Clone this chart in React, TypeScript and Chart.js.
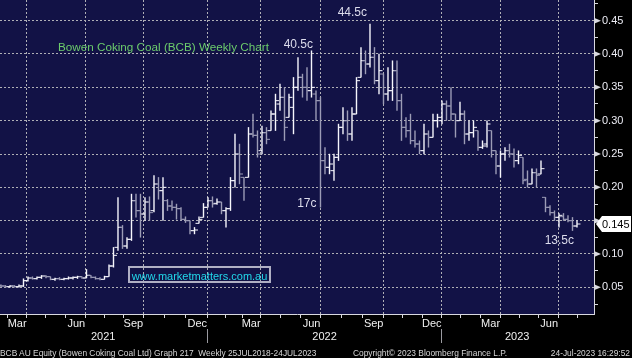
import React, { useEffect, useRef } from 'react';
import { Chart, registerables } from 'chart.js';

Chart.register(...registerables);

// Weekly OHLC, Bowen Coking Coal (BCB), Feb 2021 - Jul 2023 (A$)
const OPEN = [
  0.053, 0.052, 0.051, 0.052, 0.051, 0.052, 0.060, 0.064, 0.063, 0.065,
  0.067, 0.066, 0.062, 0.063, 0.062, 0.063, 0.064, 0.065, 0.066, 0.064,
  0.068, 0.065, 0.063, 0.062, 0.066, 0.082, 0.110, 0.140, 0.112, 0.122,
  0.180, 0.165, 0.160, 0.178, 0.165, 0.205, 0.195, 0.180, 0.172, 0.170,
  0.168, 0.152, 0.150, 0.135, 0.146, 0.155, 0.170, 0.180, 0.176, 0.178,
  0.165, 0.168, 0.210, 0.250, 0.215, 0.215, 0.280, 0.278, 0.255, 0.282,
  0.285, 0.310, 0.325, 0.335, 0.305, 0.320, 0.350, 0.365, 0.350, 0.345,
  0.340, 0.330, 0.240, 0.230, 0.225, 0.245, 0.290, 0.300, 0.280, 0.310,
  0.365, 0.390, 0.385, 0.395, 0.360, 0.370, 0.340, 0.345, 0.375, 0.330,
  0.290, 0.285, 0.270, 0.265, 0.255, 0.280, 0.275, 0.300, 0.300, 0.325,
  0.322, 0.310, 0.300, 0.310, 0.280, 0.282, 0.285, 0.260, 0.265, 0.285,
  0.255, 0.232, 0.250, 0.255, 0.250, 0.240, 0.245, 0.212, 0.205, 0.222,
  0.220, 0.185, 0.170, 0.162, 0.155, 0.156, 0.152, 0.150, 0.142,
];
const HIGH = [
  0.054, 0.053, 0.053, 0.053, 0.054, 0.063, 0.066, 0.066, 0.066, 0.068,
  0.068, 0.066, 0.064, 0.065, 0.064, 0.066, 0.066, 0.067, 0.066, 0.077,
  0.068, 0.066, 0.065, 0.067, 0.084, 0.110, 0.185, 0.143, 0.125, 0.190,
  0.190, 0.190, 0.185, 0.186, 0.218, 0.215, 0.215, 0.182, 0.180, 0.175,
  0.170, 0.156, 0.150, 0.140, 0.156, 0.176, 0.185, 0.186, 0.183, 0.178,
  0.170, 0.215, 0.280, 0.265, 0.215, 0.290, 0.310, 0.285, 0.292, 0.290,
  0.315, 0.340, 0.355, 0.350, 0.340, 0.365, 0.395, 0.370, 0.380, 0.405,
  0.345, 0.335, 0.260, 0.250, 0.250, 0.295, 0.320, 0.315, 0.320, 0.365,
  0.410, 0.405, 0.445, 0.410, 0.400, 0.370, 0.380, 0.390, 0.390, 0.340,
  0.305, 0.310, 0.285, 0.270, 0.295, 0.285, 0.310, 0.310, 0.330, 0.330,
  0.350, 0.310, 0.328, 0.315, 0.300, 0.300, 0.285, 0.270, 0.300, 0.285,
  0.255, 0.255, 0.260, 0.265, 0.258, 0.255, 0.245, 0.225, 0.228, 0.228,
  0.240, 0.185, 0.173, 0.165, 0.161, 0.161, 0.158, 0.155, 0.150,
];
const LOW = [
  0.050, 0.050, 0.050, 0.050, 0.050, 0.051, 0.059, 0.062, 0.062, 0.063,
  0.064, 0.061, 0.060, 0.061, 0.061, 0.062, 0.062, 0.063, 0.063, 0.064,
  0.064, 0.062, 0.061, 0.062, 0.066, 0.080, 0.105, 0.108, 0.108, 0.120,
  0.155, 0.125, 0.150, 0.150, 0.163, 0.182, 0.150, 0.165, 0.165, 0.152,
  0.150, 0.147, 0.130, 0.130, 0.146, 0.155, 0.170, 0.170, 0.174, 0.160,
  0.140, 0.165, 0.200, 0.205, 0.180, 0.215, 0.275, 0.245, 0.250, 0.265,
  0.285, 0.285, 0.315, 0.270, 0.305, 0.280, 0.345, 0.335, 0.330, 0.335,
  0.300, 0.170, 0.220, 0.220, 0.210, 0.240, 0.280, 0.270, 0.270, 0.310,
  0.365, 0.370, 0.380, 0.355, 0.340, 0.325, 0.330, 0.330, 0.315, 0.270,
  0.275, 0.265, 0.260, 0.250, 0.250, 0.260, 0.275, 0.290, 0.295, 0.300,
  0.300, 0.275, 0.300, 0.265, 0.270, 0.275, 0.255, 0.258, 0.260, 0.245,
  0.220, 0.215, 0.240, 0.245, 0.230, 0.235, 0.205, 0.200, 0.205, 0.200,
  0.220, 0.163, 0.158, 0.150, 0.140, 0.150, 0.148, 0.135, 0.140,
];
const CLOSE = [
  0.052, 0.051, 0.052, 0.051, 0.052, 0.060, 0.064, 0.063, 0.065, 0.067,
  0.066, 0.062, 0.063, 0.062, 0.063, 0.064, 0.065, 0.066, 0.064, 0.068,
  0.065, 0.063, 0.062, 0.066, 0.082, 0.098, 0.140, 0.112, 0.122, 0.180,
  0.165, 0.160, 0.178, 0.162, 0.205, 0.195, 0.200, 0.172, 0.170, 0.168,
  0.152, 0.150, 0.135, 0.136, 0.152, 0.170, 0.180, 0.175, 0.178, 0.165,
  0.168, 0.210, 0.250, 0.220, 0.200, 0.280, 0.278, 0.250, 0.282, 0.272,
  0.310, 0.330, 0.335, 0.290, 0.335, 0.350, 0.365, 0.350, 0.345, 0.350,
  0.330, 0.240, 0.230, 0.235, 0.245, 0.290, 0.300, 0.280, 0.310, 0.360,
  0.390, 0.385, 0.395, 0.360, 0.375, 0.340, 0.345, 0.375, 0.330, 0.290,
  0.285, 0.270, 0.265, 0.255, 0.280, 0.275, 0.300, 0.305, 0.325, 0.322,
  0.310, 0.300, 0.310, 0.280, 0.282, 0.290, 0.260, 0.262, 0.295, 0.255,
  0.232, 0.250, 0.255, 0.250, 0.240, 0.248, 0.210, 0.205, 0.222, 0.218,
  0.228, 0.170, 0.162, 0.155, 0.158, 0.152, 0.150, 0.142, 0.145,
];

// x axis: week index positions of month boundaries, labels only at quarter marks
const MONTH_TICKS = [
  1.4, 5.7, 10.0, 14.4, 18.7, 23.0, 27.3, 31.6, 36.3, 41.1, 45.8, 49.8, 53.7, 57.7, 62.1,
  66.6, 71.0, 75.7, 80.3, 85.0, 89.3, 93.6, 97.9, 102.2, 106.6, 110.9, 115.2, 119.5, 123.8, 128.1,
];
const MONTH_LABELS = [
  '', 'Mar', '', '', 'Jun', '', '', 'Sep', '', '', 'Dec', '', '', 'Mar', '',
  '', 'Jun', '', '', 'Sep', '', '', 'Dec', '', '', 'Mar', '', '', 'Jun', '',
];
const YEAR_TICKS = [22.7, 45.8, 71.9, 97.9, 114.7];
const YEAR_LABELS = ['2021', '', '2022', '', '2023'];

const Y_TICKS = [
  0.025, 0.05, 0.075, 0.1, 0.125, 0.15, 0.175, 0.2, 0.225, 0.25,
  0.275, 0.3, 0.325, 0.35, 0.375, 0.4, 0.425, 0.45, 0.475,
];
const Y_LABELS = [
  '', '0.05', '', '0.10', '', '0.15', '', '0.20', '', '0.25',
  '', '0.30', '', '0.35', '', '0.40', '', '0.45', '',
];

const PRICE_NOTES = [
  { index: 69, text: '40.5c', anchor: 'high', dx: 1.5, dy: -3 },
  { index: 82, text: '44.5c', anchor: 'high', dx: -3, dy: -8 },
  { index: 71, text: '17c', anchor: 'low', dx: -4, dy: 0 },
  { index: 127, text: '13.5c', anchor: 'low', dx: 1.5, dy: 13 },
];

const X_MIN = -0.22;
const X_MAX = 131.78;
const Y_MIN = 0.01;
const Y_MAX = 0.481;

const FONT = '"Liberation Sans", Arial, Helvetica, sans-serif';
const NAVY = 'rgb(18,18,70)';
const UP = '#f6f6fc';
const DOWN = '#9c9cb6';
const GRID = 'rgba(175,175,182,1)';
const AXIS = '#d8d8e0';

export default function App() {
  const ref = useRef<HTMLCanvasElement>(null);

  useEffect(() => {
    const canvas = ref.current;
    if (!canvas) return;
    Chart.defaults.font.family = FONT;
    const colors = CLOSE.map((c, i) => (c >= OPEN[i] ? UP : DOWN));

    const bgPlugin = {
      id: 'bgPlugin',
      beforeDraw(chart: any) {
        const { ctx, chartArea: a } = chart;
        ctx.save();
        ctx.fillStyle = '#000';
        ctx.fillRect(0, 0, chart.width, chart.height);
        ctx.fillStyle = NAVY;
        ctx.fillRect(a.left, a.top, a.right - a.left, a.bottom - a.top);
        ctx.restore();
      },
    };

    const notePlugin = {
      id: 'notePlugin',
      afterDatasetsDraw(chart: any) {
        const { ctx } = chart;
        const xs = chart.scales.x;
        const ys = chart.scales.y;
        ctx.save();
        ctx.font = `12px ${FONT}`;
        ctx.fillStyle = '#dcdcec';
        ctx.textAlign = 'right';
        ctx.textBaseline = 'alphabetic';
        for (const n of PRICE_NOTES) {
          const v = n.anchor === 'high' ? HIGH[n.index] : LOW[n.index];
          ctx.fillText(n.text, xs.getPixelForValue(n.index) + n.dx, ys.getPixelForValue(v) + n.dy);
        }
        ctx.restore();
      },
      afterDraw(chart: any) {
        const { ctx } = chart;
        const ys = chart.scales.y;
        const x0 = ys.left;
        ctx.save();
        ctx.fillStyle = AXIS;
        Y_TICKS.forEach((v, i) => {
          if (!Y_LABELS[i]) return;
          const yc = ys.getPixelForValue(v);
          ctx.beginPath();
          ctx.moveTo(x0, yc - 3);
          ctx.lineTo(x0 + 7, yc);
          ctx.lineTo(x0, yc + 3);
          ctx.closePath();
          ctx.fill();
        });
        const last = CLOSE[CLOSE.length - 1];
        const yc = Math.round(ys.getPixelForValue(last));
        const tip = x0 + 2;
        ctx.fillStyle = '#ffffff';
        ctx.beginPath();
        ctx.moveTo(tip, yc);
        ctx.lineTo(tip + 6, yc - 8);
        ctx.lineTo(chart.width - 1, yc - 8);
        ctx.lineTo(chart.width - 1, yc + 8);
        ctx.lineTo(tip + 6, yc + 8);
        ctx.closePath();
        ctx.fill();
        ctx.fillStyle = '#000';
        ctx.font = `11px ${FONT}`;
        ctx.textAlign = 'left';
        ctx.textBaseline = 'middle';
        ctx.fillText(last.toFixed(3), tip + 6, yc + 0.5);
        ctx.restore();
      },
    };

    const chart = new Chart(canvas, {
      type: 'bar',
      data: {
        datasets: [
          {
            type: 'bar',
            data: LOW.map((l, i) => ({ x: i, y: [l, HIGH[i]] })) as any,
            backgroundColor: colors,
            borderWidth: 0,
            barThickness: 1,
            inflateAmount: 0.2,
            xAxisID: 'x',
            yAxisID: 'y',
          } as any,
          {
            type: 'scatter',
            data: OPEN.map((o, i) => ({ x: i, y: o })),
            pointStyle: 'dash',
            pointRotation: 180,
            pointRadius: 3.5,
            pointHoverRadius: 3.5,
            pointBorderWidth: 1,
            pointBorderColor: colors,
            pointBackgroundColor: colors,
            xAxisID: 'x',
            yAxisID: 'y',
          } as any,
          {
            type: 'scatter',
            data: CLOSE.map((c, i) => ({ x: i, y: c })),
            pointStyle: 'dash',
            pointRotation: 0,
            pointRadius: 3.5,
            pointHoverRadius: 3.5,
            pointBorderWidth: 1,
            pointBorderColor: colors,
            pointBackgroundColor: colors,
            xAxisID: 'x',
            yAxisID: 'y',
          } as any,
        ],
      },
      options: {
        animation: false,
        responsive: false,
        maintainAspectRatio: false,
        devicePixelRatio: 1,
        events: [],
        layout: { padding: 0, autoPadding: false } as any,
        plugins: { legend: { display: false }, tooltip: { enabled: false }, title: { display: false } },
        scales: {
          x: {
            type: 'linear',
            position: 'bottom',
            weight: 0,
            min: X_MIN,
            max: X_MAX,
            offset: false,
            afterBuildTicks: (s: any) => {
              s.ticks = MONTH_TICKS.map((v) => ({ value: v }));
            },
            afterFit: (s: any) => {
              s.height = 15;
              s.paddingLeft = 0;
              s.paddingRight = 0;
            },
            ticks: {
              autoSkip: false,
              maxRotation: 0,
              minRotation: 0,
              align: 'end',
              padding: -1,
              color: '#f0f0f0',
              font: { size: 11, family: FONT },
              callback: (_v: any, i: number) => MONTH_LABELS[i] ?? '',
            },
            grid: {
              offset: false,
              color: (c: any) => (MONTH_LABELS[c.index] ? GRID : 'transparent'),
              lineWidth: 1,
              drawOnChartArea: true,
              drawTicks: true,
              tickLength: 4,
              tickColor: AXIS,
            },
            border: { display: true, color: AXIS, width: 1, dash: [2, 2] },
          } as any,
          x2: {
            type: 'linear',
            axis: 'x',
            position: 'bottom',
            weight: 1,
            min: X_MIN,
            max: X_MAX,
            offset: false,
            afterBuildTicks: (s: any) => {
              s.ticks = YEAR_TICKS.map((v) => ({ value: v }));
            },
            afterFit: (s: any) => {
              s.height = 29;
              s.paddingLeft = 0;
              s.paddingRight = 0;
            },
            ticks: {
              autoSkip: false,
              maxRotation: 0,
              minRotation: 0,
              padding: -13,
              color: '#f0f0f0',
              font: { size: 11, family: FONT },
              callback: (_v: any, i: number) => YEAR_LABELS[i] ?? '',
            },
            grid: {
              offset: false,
              drawOnChartArea: false,
              drawTicks: true,
              tickLength: 14,
              color: 'transparent',
              tickColor: (c: any) => (YEAR_LABELS[c.index] ? 'transparent' : '#9a9aa0'),
            },
            border: { display: false },
          } as any,
          y: {
            type: 'linear',
            position: 'right',
            min: Y_MIN,
            max: Y_MAX,
            beginAtZero: false,
            afterBuildTicks: (s: any) => {
              s.ticks = Y_TICKS.map((v) => ({ value: v }));
            },
            afterFit: (s: any) => {
              s.width = 38;
              s.paddingTop = 0;
              s.paddingBottom = 0;
            },
            ticks: {
              autoSkip: false,
              padding: 4,
              color: '#ececf4',
              font: { size: 11, family: FONT },
              callback: (_v: any, i: number) => Y_LABELS[i] ?? '',
            },
            grid: {
              color: (c: any) => (Y_LABELS[c.index] ? GRID : 'transparent'),
              lineWidth: 1,
              drawTicks: true,
              tickLength: 4,
              tickColor: AXIS,
            },
            border: { display: true, color: AXIS, width: 1, dash: [2, 2] },
          } as any,
        },
      },
      plugins: [bgPlugin, notePlugin],
    } as any);

    return () => chart.destroy();
  }, []);

  const footer: React.CSSProperties = {
    position: 'absolute',
    top: 348,
    fontSize: 8.4,
    lineHeight: '10px',
    color: '#d6d6d6',
    whiteSpace: 'pre',
  };

  return (
    <div
      style={{
        position: 'fixed',
        left: 0,
        top: 0,
        width: 632,
        height: 358,
        background: '#000',
        overflow: 'hidden',
        fontFamily: FONT,
      }}
    >
      <canvas
        ref={ref}
        width={632}
        height={358}
        style={{ position: 'absolute', left: 0, top: 0, width: 632, height: 358 }}
      />
      <div
        style={{
          position: 'absolute',
          left: 58,
          top: 41,
          fontSize: 11.7,
          lineHeight: '12px',
          color: '#6ccc6c',
          whiteSpace: 'nowrap',
        }}
      >
        Bowen Coking Coal (BCB) Weekly Chart
      </div>
      <div
        style={{
          position: 'absolute',
          left: 128,
          top: 266,
          width: 143,
          height: 17,
          boxSizing: 'border-box',
          border: '2px solid #b0b0c4',
          color: '#22d8ea',
          fontSize: 11,
          lineHeight: '16px',
          textAlign: 'center',
          whiteSpace: 'nowrap',
        }}
      >
        www.marketmatters.com.au
      </div>
      <div style={{ ...footer, left: 0 }}>
        {'BCB AU Equity (Bowen Coking Coal Ltd) Graph 217  Weekly 25JUL2018-24JUL2023'}
      </div>
      <div style={{ ...footer, left: 353 }}>{'Copyright\u00a9 2023 Bloomberg Finance L.P.'}</div>
      <div style={{ ...footer, right: 2 }}>{'24-Jul-2023 16:29:52'}</div>
    </div>
  );
}
